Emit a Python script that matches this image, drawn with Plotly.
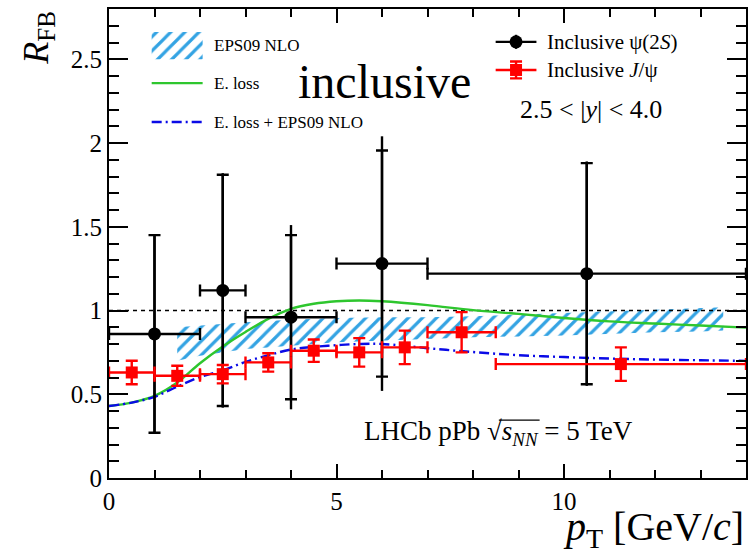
import plotly.graph_objects as go

# ---- data ----------------------------------------------------------------
# Inclusive psi(2S): pT bin centres, bin half-widths, R_FB, stat and total errors
psi2s_pt = [1.0, 2.5, 4.0, 6.0, 10.5]
psi2s_pt_lo = [1.0, 0.5, 1.0, 1.0, 3.5]
psi2s_pt_hi = [1.0, 0.5, 1.0, 1.0, 3.5]
psi2s_rfb = [0.86, 1.12, 0.96, 1.28, 1.22]
psi2s_stat = [0.59, 0.69, 0.49, 0.675, 0.66]
psi2s_tot = [0.59, 0.70, 0.55, 0.76, 0.67]

# Inclusive J/psi
jpsi_pt = [0.5, 1.5, 2.5, 3.5, 4.5, 5.5, 6.5, 7.75, 11.25]
jpsi_pt_lo = [0.5, 0.5, 0.5, 0.5, 0.5, 0.5, 0.5, 0.75, 2.75]
jpsi_pt_hi = [0.5, 0.5, 0.5, 0.5, 0.5, 0.5, 0.5, 0.75, 2.75]
jpsi_rfb = [0.63, 0.61, 0.62, 0.69, 0.76, 0.75, 0.78, 0.87, 0.68]
jpsi_err = [0.07, 0.06, 0.055, 0.055, 0.067, 0.085, 0.10, 0.12, 0.10]

# EPS09 NLO uncertainty band
eps_pt = [1.5, 2.0, 3.0, 4.0, 5.0, 6.0, 7.0, 8.0, 9.0, 10.0, 11.0, 12.0, 13.0, 13.5]
eps_hi = [0.90, 0.91, 0.93, 0.945, 0.955, 0.96, 0.96, 0.965, 0.975, 0.985, 0.995, 1.005, 1.015, 1.02]
eps_lo = [0.70, 0.73, 0.77, 0.79, 0.81, 0.82, 0.83, 0.84, 0.845, 0.85, 0.86, 0.87, 0.875, 0.88]

# Energy-loss model curves
eloss_pt = [0, 0.5, 1.0, 1.5, 2.0, 2.5, 3.0, 3.5, 4.0, 4.5, 5.0, 5.5, 6.0, 7.0, 8.0, 9.0, 10.0, 11.0, 12.0, 13.0, 14.0]
eloss_r = [0.43, 0.45, 0.49, 0.57, 0.685, 0.785, 0.872, 0.95, 1.01, 1.04, 1.055, 1.06, 1.055, 1.032, 1.002, 0.98, 0.955, 0.935, 0.922, 0.91, 0.898]
combo_r = [0.43, 0.45, 0.485, 0.545, 0.603, 0.643, 0.693, 0.733, 0.767, 0.783, 0.793, 0.80, 0.80, 0.775, 0.752, 0.733, 0.722, 0.713, 0.707, 0.703, 0.699]

X_RANGE = [0, 14]
Y_RANGE = [0, 2.8]
UNITY = 1.0

SERIF = "Liberation Serif, Times New Roman, serif"
HATCH = "#33a3e3"
GREEN = "#2ec62e"
BLUE = "#0a0ae6"
RED = "#ff0000"

fig = go.Figure()

# EPS09 hatched band
fig.add_trace(go.Scatter(
    x=eps_pt + eps_pt[::-1], y=eps_hi + eps_lo[::-1],
    fill="toself", mode="lines", line=dict(width=0),
    fillcolor="rgba(0,0,0,0)",
    fillpattern=dict(shape="/", fgcolor=HATCH, bgcolor="rgba(0,0,0,0)",
                     size=10, solidity=0.32, fgopacity=1),
    hoverinfo="skip", showlegend=False))

# reference line R_FB = 1
fig.add_trace(go.Scatter(x=X_RANGE, y=[UNITY, UNITY], mode="lines",
                         line=dict(color="black", width=1.6, dash="4px,4px"),
                         showlegend=False))

# model curves
fig.add_trace(go.Scatter(x=eloss_pt, y=eloss_r, mode="lines",
                         line=dict(color=GREEN, width=2.4, shape="spline"),
                         showlegend=False))
fig.add_trace(go.Scatter(x=eloss_pt, y=combo_r, mode="lines",
                         line=dict(color=BLUE, width=2.4, dash="10px,4px,2px,4px", shape="spline"),
                         showlegend=False))

# psi(2S): total uncertainty (plain line) + stat (capped) + pT bin widths
fig.add_trace(go.Scatter(
    x=psi2s_pt, y=psi2s_rfb, mode="markers", marker=dict(size=1, color="black"),
    error_y=dict(type="data", array=psi2s_tot, color="black", thickness=2.4, width=0),
    showlegend=False, hoverinfo="skip"))
fig.add_trace(go.Scatter(
    x=psi2s_pt, y=psi2s_rfb, mode="markers",
    marker=dict(symbol="circle", size=13, color="black"),
    error_y=dict(type="data", array=psi2s_stat, color="black", thickness=2.4, width=6),
    error_x=dict(type="data", array=psi2s_pt_hi, arrayminus=psi2s_pt_lo,
                 color="black", thickness=2.4, width=6),
    showlegend=False))

# J/psi
fig.add_trace(go.Scatter(
    x=jpsi_pt, y=jpsi_rfb, mode="markers",
    marker=dict(symbol="square", size=12, color=RED),
    error_y=dict(type="data", array=jpsi_err, color=RED, thickness=2.4, width=6),
    error_x=dict(type="data", array=jpsi_pt_hi, arrayminus=jpsi_pt_lo,
                 color=RED, thickness=2.4, width=6),
    showlegend=False))

# ---- hand-drawn legends on an overlay axis in plot-area fractions ----------
ov = dict(xaxis="x2", yaxis="y2", showlegend=False, hoverinfo="skip")
bx0, bx1, by0, by1 = 0.067, 0.147, 0.893, 0.951
fig.add_trace(go.Scatter(
    x=[bx0, bx1, bx1, bx0, bx0], y=[by0, by0, by1, by1, by0],
    fill="toself", mode="lines", line=dict(width=0), fillcolor="rgba(0,0,0,0)",
    fillpattern=dict(shape="/", fgcolor=HATCH, bgcolor="rgba(0,0,0,0)",
                     size=10, solidity=0.32, fgopacity=1), **ov))
fig.add_trace(go.Scatter(x=[bx0, bx1], y=[0.842, 0.842], mode="lines",
                         line=dict(color=GREEN, width=2.4), **ov))
fig.add_trace(go.Scatter(x=[bx0, bx1], y=[0.759, 0.759], mode="lines",
                         line=dict(color=BLUE, width=2.4, dash="10px,4px,2px,4px"), **ov))

lx0, lx1, lxc = 0.607, 0.671, 0.639
fig.add_trace(go.Scatter(x=[lx0, lx1], y=[0.930, 0.930], mode="lines",
                         line=dict(color="black", width=2.4), **ov))
fig.add_trace(go.Scatter(x=[lxc], y=[0.930], mode="markers",
                         marker=dict(symbol="circle", size=13, color="black"),
                         error_y=dict(type="constant", value=0.015, color="black",
                                      thickness=2.4, width=0), **ov))
fig.add_trace(go.Scatter(x=[lx0, lx1], y=[0.870, 0.870], mode="lines",
                         line=dict(color=RED, width=2.4), **ov))
fig.add_trace(go.Scatter(x=[lxc], y=[0.870], mode="markers",
                         marker=dict(symbol="square", size=12, color=RED),
                         error_y=dict(type="constant", value=0.018, color=RED,
                                      thickness=2.4, width=6), **ov))

def note(text, x, y, size, xanchor="left", yanchor="middle", **kw):
    fig.add_annotation(text=text, x=x, y=y, xref="paper", yref="paper",
                       xanchor=xanchor, yanchor=yanchor, showarrow=False,
                       font=dict(family=SERIF, size=size, color="black"), **kw)

note("EPS09 NLO", 0.161, 0.923, 17)
note("E. loss", 0.161, 0.842, 17)
note("E. loss + EPS09 NLO", 0.161, 0.759, 17)
note("Inclusive ψ(2<i>S</i>)", 0.685, 0.930, 21)
note("Inclusive <i>J</i>/ψ", 0.685, 0.870, 21)
note("2.5 < |<i>y</i>| < 4.0", 0.757, 0.785, 26, xanchor="center")
note("inclusive", 0.432, 0.845, 48, xanchor="center")
note("LHCb pPb √<i>s</i><sub><i>NN</i></sub> = 5 TeV", 0.397, 0.096, 27)
note("<i>R</i><sub>FB</sub>", -0.112, 1.0, 36, xanchor="center", yanchor="top", textangle=-90)
note("<i>p</i><sub>T</sub> [GeV/<i>c</i>]", 1.0, -0.052, 40, xanchor="right", yanchor="top")

# overbar of the square root in the energy label
fig.add_shape(type="line", xref="paper", yref="paper",
              x0=0.612, x1=0.676, y0=0.1235, y1=0.1235,
              line=dict(color="black", width=1.2))

axis_common = dict(showline=True, linecolor="black", linewidth=2, mirror="ticks",
                   ticks="inside", tickcolor="black", tickwidth=2,
                   showgrid=False, zeroline=False,
                   tickfont=dict(family=SERIF, size=25, color="black"))

fig.update_layout(
    width=751, height=554,
    margin=dict(l=109, r=3, t=9, b=76),
    paper_bgcolor="white", plot_bgcolor="white",
    showlegend=False,
    xaxis=dict(range=X_RANGE, dtick=5, ticklen=14,
               minor=dict(dtick=1, ticklen=8, ticks="inside", tickcolor="black", tickwidth=2),
               **axis_common),
    yaxis=dict(range=Y_RANGE, dtick=0.5, ticklen=19,
               minor=dict(dtick=0.1, ticklen=10, ticks="inside", tickcolor="black", tickwidth=2),
               **axis_common),
    xaxis2=dict(range=[0, 1], overlaying="x", visible=False, fixedrange=True),
    yaxis2=dict(range=[0, 1], overlaying="y", visible=False, fixedrange=True),
)

fig.write_html("out.html")
